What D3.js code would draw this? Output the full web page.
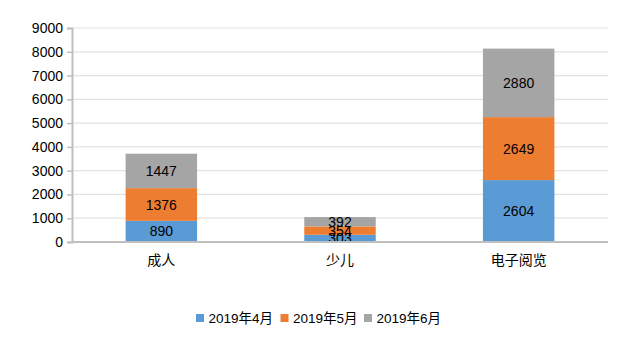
<!DOCTYPE html>
<html><head><meta charset="utf-8">
<script src="https://cdn.jsdelivr.net/npm/d3@7"></script>
<style>
html,body{margin:0;padding:0;background:#fff;}
svg text{font-family:"Liberation Sans","Noto Sans CJK SC",Arial,sans-serif;}
</style></head>
<body><svg id="c" width="640" height="355"></svg>
<script>
const categories = ["成人", "少儿", "电子阅览"];
const seriesNames = ["2019年4月", "2019年5月", "2019年6月"];
const apr = [890, 303, 2604];
const may = [1376, 354, 2649];
const jun = [1447, 392, 2880];
const yTicks = [0, 1000, 2000, 3000, 4000, 5000, 6000, 7000, 8000, 9000];
const colors = ["#5B9BD5", "#ED7D31", "#A5A5A5"];

const svg = d3.select("#c");
const mLeft = 72, mRight = 608, mTop = 28, mBottom = 242;
const x = d3.scaleBand().domain(categories).range([mLeft, mRight]).paddingInner(0.6).paddingOuter(0.3);
const y = d3.scaleLinear().domain([0, 9000]).range([mBottom, mTop]);

// grid
svg.append("g").selectAll("line").data(yTicks.filter(d => d > 0)).join("line")
  .attr("x1", mLeft).attr("x2", mRight).attr("y1", d => y(d)).attr("y2", d => y(d))
  .attr("stroke", "#e3e3e3").attr("stroke-width", 1.2);

const table = categories.map((c, i) => ({cat: c, s0: apr[i], s1: may[i], s2: jun[i]}));
const stack = d3.stack().keys(["s0", "s1", "s2"])(table);

const g = svg.append("g");
stack.forEach((layer, li) => {
  g.append("g").selectAll("rect").data(layer).join("rect")
    .attr("x", d => x(d.data.cat)).attr("width", x.bandwidth())
    .attr("y", d => y(d[1])).attr("height", d => y(d[0]) - y(d[1]))
    .attr("fill", colors[li]);
});
stack.forEach((layer, li) => {
  g.append("g").selectAll("text").data(layer).join("text")
    .attr("x", d => x(d.data.cat) + x.bandwidth() / 2)
    .attr("y", d => (y(d[0]) + y(d[1])) / 2)
    .attr("dy", "0.36em").attr("text-anchor", "middle")
    .attr("font-size", 14).attr("fill", "#000")
    .text(d => d[1] - d[0]);
});

// axes
const yAxis = d3.axisLeft(y).tickValues(yTicks).tickFormat(d3.format("d")).tickSize(5).tickPadding(4);
const ya = svg.append("g").attr("transform", `translate(${mLeft},0)`).call(yAxis);
ya.select(".domain").attr("stroke", "#bfbfbf").attr("stroke-width", 2);
ya.selectAll(".tick line").attr("stroke", "#bfbfbf").attr("stroke-width", 1.5);
ya.selectAll(".tick text").attr("font-size", 14).attr("fill", "#000")
  .attr("font-family", "Liberation Sans, Arial, sans-serif");

const xAxis = d3.axisBottom(x).tickSize(0).tickPadding(13);
const xa = svg.append("g").attr("transform", `translate(0,${mBottom})`).call(xAxis);
xa.select(".domain").attr("stroke", "#bfbfbf").attr("stroke-width", 2).attr("d", `M${mLeft},0H${mRight}`);
xa.selectAll(".tick text").attr("font-size", 14).attr("fill", "#000")
  .attr("font-family", "Noto Sans CJK SC, sans-serif");

// legend
const legX = [196, 280.5, 364];
const leg = svg.append("g");
seriesNames.forEach((n, i) => {
  leg.append("rect").attr("x", legX[i]).attr("y", 314).attr("width", 8).attr("height", 8).attr("fill", colors[i]);
  leg.append("text").attr("x", legX[i] + 12.5).attr("y", 318).attr("dy", "0.36em")
    .attr("font-size", 13.5).attr("fill", "#000").text(n);
});
</script></body></html>
